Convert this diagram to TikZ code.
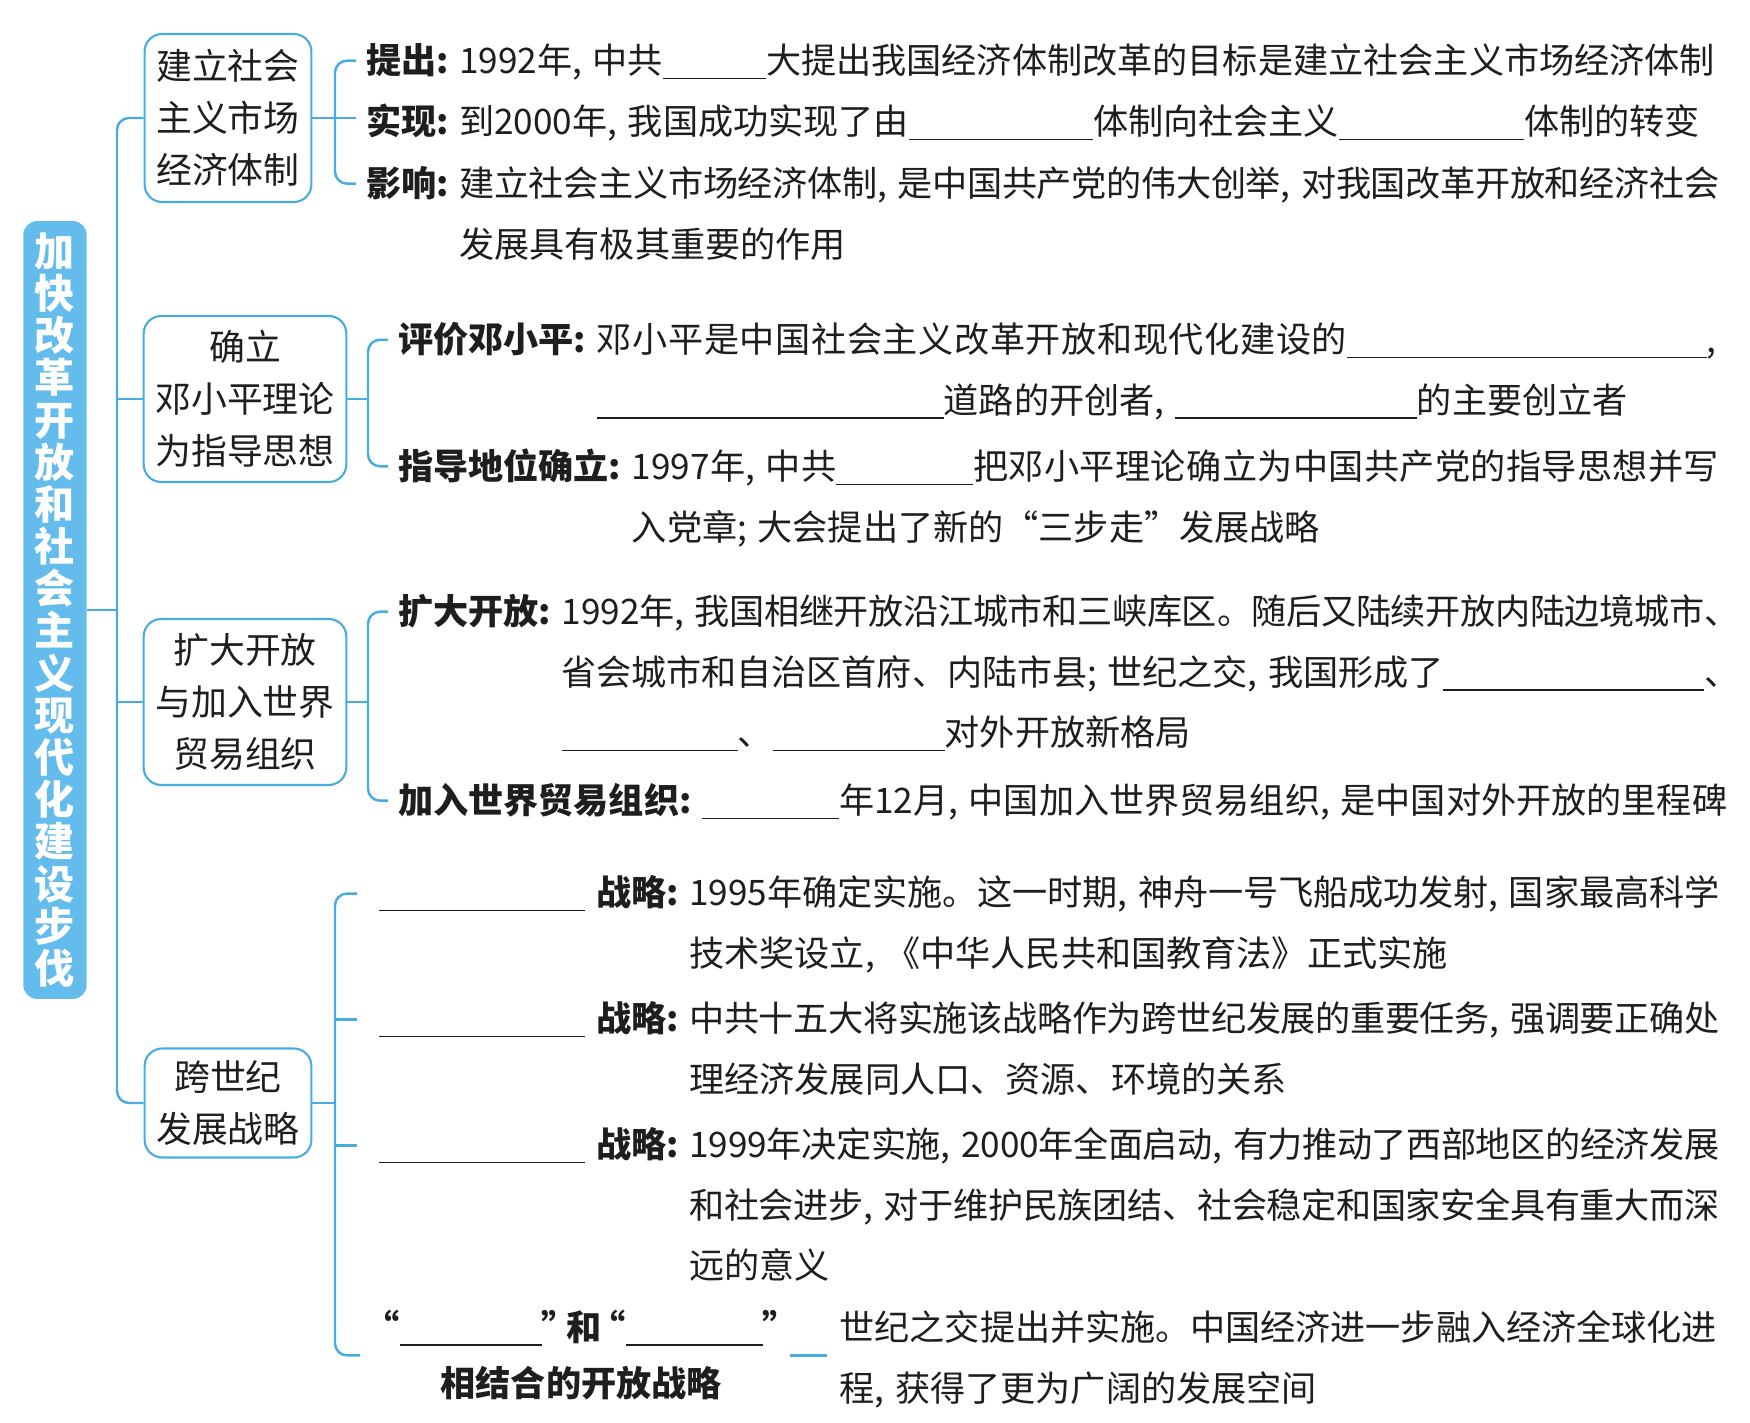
\documentclass[tikz,border=0pt]{standalone}
\usepackage{fontspec}
\setmainfont{Noto Sans CJK SC}
\XeTeXlinebreaklocale "zh"
\XeTeXlinebreakskip=0pt plus 2pt minus 0.6pt
\definecolor{mapblue}{RGB}{72,172,226}
\definecolor{mapfill}{RGB}{100,188,236}
\definecolor{mapink}{RGB}{30,30,30}
\newcommand{\blank}[1]{\rule[-0.15em]{#1}{0.45pt}}
\newcommand{\cma}{,\kern.3em}
\newcommand{\smc}{;\kern.3em}
\tikzset{
  ttlbox/.style={fill=mapfill, rounded corners=4pt, text=white, align=center,
                 minimum width=0.6cm, minimum height=7.57cm,
                 font=\fontsize{11.4}{12}\selectfont\bfseries},
  topic/.style={draw=mapblue, line width=0.6pt, rounded corners=5pt, align=center,
                text=mapink, font=\fontsize{10.2}{14.8}\selectfont},
  lbl/.style={anchor=base west, inner sep=0pt, outer xsep=1mm, text=mapink,
              font=\fontsize{10}{17.2}\selectfont\bfseries},
  oneline/.style={anchor=base west, inner sep=0pt, text=mapink,
                  font=\fontsize{10}{17.2}\selectfont},
  txt/.style={oneline, align=justify},
  link/.style={draw=mapblue, line width=0.7pt},
  elbow/.style={link, rounded corners=1.2mm}
}

\begin{document}
\begin{tikzpicture}[x=0.1mm, y=-0.1mm]
  \useasboundingbox (0,0) rectangle (1750,1423);
  % title and spine
  \node[ttlbox] (ttl) at (55,610) {加\\快\\改\\革\\开\\放\\和\\社\\会\\主\\义\\现\\代\\化\\建\\设\\步\\伐};
  \coordinate (spine) at (117,0);
  \coordinate (fork1) at (335,0);
  \coordinate (fork2) at (368,0);

  % topic boxes
  \node[topic, minimum width=1.62cm, minimum height=1.68cm] (mkt)  at (228,118)  {建立社会\\主义市场\\经济体制};
  \node[topic, minimum width=1.96cm, minimum height=1.66cm] (deng) at (245,399)  {确立\\邓小平理论\\为指导思想};
  \node[topic, minimum width=1.96cm, minimum height=1.66cm] (wto)  at (245,702)  {扩大开放\\与加入世界\\贸易组织};
  \node[topic, minimum width=1.61cm, minimum height=1.09cm] (plan) at (228,1103) {跨世纪\\发展战略};

  % market economy
  \node[lbl] (a1) at (356,74)  {提出:};
  \node[oneline] (a1t) at (a1.base east) {1992年\cma 中共\blank{1.03cm}大提出我国经济体制改革的目标是建立社会主义市场经济体制};
  \node[lbl] (a2) at (356,135) {实现:};
  \node[oneline] (a2t) at (a2.base east) {到2000年\cma 我国成功实现了由\blank{1.84cm}体制向社会主义\blank{1.85cm}体制的转变};
  \node[lbl] (a3) at (356,197) {影响:};
  \node[txt, text width=12.6cm] (a3t) at (a3.base east) {建立社会主义市场经济体制\cma 是中国共产党的伟大创举\cma 对我国改革开放和经济社会\linebreak 发展具有极其重要的作用};

  % Deng Xiaoping theory
  \node[lbl] (b1) at (388,353) {评价邓小平:};
  \node[txt, text width=11.2cm] (b1t) at (b1.base east) {邓小平是中国社会主义改革开放和现代化建设的\blank{3.6cm},\linebreak \blank{3.47cm}道路的开创者\cma\blank{2.42cm}的主要创立者};
  \node[lbl] (b2) at (388,480) {指导地位确立:};
  \node[txt, text width=10.87cm] (b2t) at (b2.base east) {1997年\cma 中共\blank{1.37cm}把邓小平理论确立为中国共产党的指导思想并写\linebreak 入党章\smc 大会提出了新的“三步走”发展战略};

  % opening up and WTO
  \node[lbl] (c1) at (388,625) {扩大开放:};
  \node[txt, text width=11.78cm] (c1t) at (c1.base east) {1992年\cma 我国相继开放沿江城市和三峡库区。随后又陆续开放内陆边境城市、\linebreak 省会城市和自治区首府、内陆市县\smc 世纪之交\cma 我国形成了\blank{2.61cm}、\linebreak \blank{1.76cm}、\blank{1.72cm}对外开放新格局};
  \node[lbl] (c2) at (388,814) {加入世界贸易组织:};
  \node[oneline] (c2t) at (c2.base east) {\blank{1.37cm}年12月\cma 中国加入世界贸易组织\cma 是中国对外开放的里程碑};

  % cross-century strategies
  \node[lbl] (s1) at (369,906)  {\blank{2.06cm}\hspace{1.1mm}战略:};
  \node[txt, text width=10.3cm] (s1t) at (s1.base east) {1995年确定实施。这一时期\cma 神舟一号飞船成功发射\cma 国家最高科学\linebreak 技术奖设立\cma《中华人民共和国教育法》正式实施};
  \node[lbl] (s2) at (369,1032) {\blank{2.06cm}\hspace{1.1mm}战略:};
  \node[txt, text width=10.3cm] (s2t) at (s2.base east) {中共十五大将实施该战略作为跨世纪发展的重要任务\cma 强调要正确处\linebreak 理经济发展同人口、资源、环境的关系};
  \node[lbl] (s3) at (369,1158) {\blank{2.06cm}\hspace{1.1mm}战略:};
  \node[txt, text width=10.3cm] (s3t) at (s3.base east) {1999年决定实施\cma 2000年全面启动\cma 有力推动了西部地区的经济发展\linebreak 和社会进步\cma 对于维护民族团结、社会稳定和国家安全具有重大而深\linebreak 远的意义};
  \node[lbl, align=center, font=\fontsize{10}{16}\selectfont\bfseries] (s4) at (372,1397) {\kern-.5em“\blank{1.42cm}”\kern-.3em 和\kern-.3em“\blank{1.37cm}”\kern-.5em\\相结合的开放战略};
  \node[txt, text width=8.77cm] (s4t) at (839,1341) {世纪之交提出并实施。中国经济进一步融入经济全球化进\linebreak 程\cma 获得了更为广阔的发展空间};

  % spine links
  \draw[link] (ttl.east) -- (ttl.east -| spine);
  \draw[elbow] (mkt.west) -- (mkt.west -| spine) -- (plan.west -| spine) -- (plan.west);
  \draw[link] (deng.west -| spine) -- (deng.west);
  \draw[link] (wto.west -| spine) -- (wto.west);

  % forks
  \draw[elbow] (a1.west) -- (a1.west -| fork1) -- (a3.west -| fork1) -- (a3.west);
  \draw[link] (mkt.east) -- (mkt.east -| a2.west);
  \draw[elbow] (b1.west) -- (b1.west -| fork2) -- (b2.west -| fork2) -- (b2.west);
  \draw[link] (deng.east) -- (deng.east -| fork2);
  \draw[elbow] (c1.west) -- (c1.west -| fork2) -- (c2.west -| fork2) -- (c2.west);
  \draw[link] (wto.east) -- (wto.east -| fork2);
  \draw[elbow, shorten <=1.2mm, shorten >=1.2mm] (s1.west) -- (s1.west -| fork1) -- (s4.west -| fork1) -- (s4.west);
  \draw[link, shorten >=1.2mm] (s2.west -| fork1) -- (s2.west);
  \draw[link, shorten >=1.2mm] (s3.west -| fork1) -- (s3.west);
  \draw[link] (plan.east) -- (plan.east -| fork1);
  \draw[link, shorten >=1.2mm] (s4.east) -- (s4.east -| s4t.west);
\end{tikzpicture}
\end{document}
